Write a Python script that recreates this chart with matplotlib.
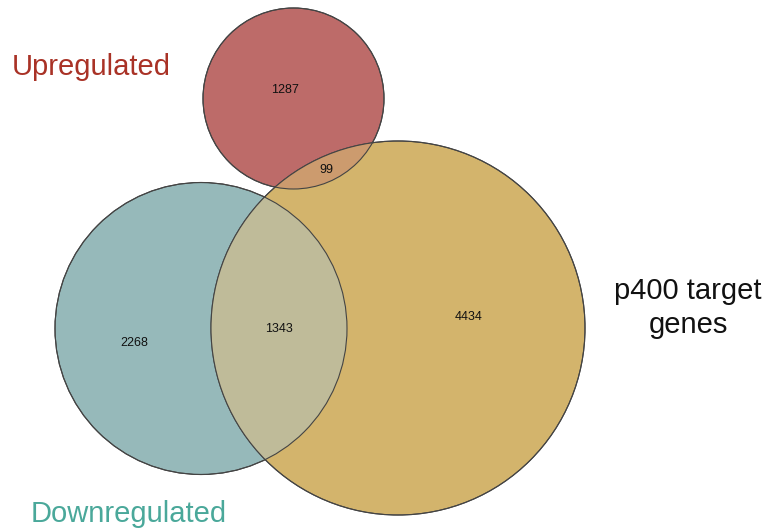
import matplotlib.pyplot as plt
from matplotlib.patches import Circle

set_names = ['Upregulated', 'Downregulated', 'p400 target\ngenes']
set_colors = ['#bd6b69', '#96b9ba', '#d3b46c']
label_colors = ['#a93226', '#4aa89a', '#111111']

region_labels = ['up_only', 'down_only', 'p400_only', 'up_p400', 'down_p400']
region_counts = [1287, 2268, 4434, 99, 1343]

# layout in pixel space (y downwards)
circ = {
    'up': ((293.5, 98.5), 90.5),
    'down': ((201, 328.5), 146),
    'p400': ((398, 328), 187),
}
count_pos = {
    'up_only': (285, 90),
    'down_only': (134, 343),
    'p400_only': (469, 317),
    'up_p400': (326, 170),
    'down_p400': (279, 329),
}

plt.rcParams['font.family'] = ['Liberation Sans', 'DejaVu Sans']
fig = plt.figure(figsize=(7.67, 5.31), dpi=100)
ax = fig.add_axes([0, 0, 1, 1])
ax.set_xlim(0, 767)
ax.set_ylim(531, 0)
ax.set_aspect('equal')
ax.axis('off')

edge = dict(edgecolor='#444444', linewidth=0.8)
c_down = Circle(*circ['down'], facecolor=set_colors[1], zorder=1, **edge)
c_p400 = Circle(*circ['p400'], facecolor=set_colors[2], zorder=2, **edge)
c_up = Circle(*circ['up'], facecolor=set_colors[0], zorder=1, **edge)
for c in (c_down, c_p400, c_up):
    ax.add_patch(c)

# overlap lenses
lens1 = Circle(*circ['down'], facecolor='#bfbb99', edgecolor='none', zorder=3)
ax.add_patch(lens1)
lens1.set_clip_path(c_p400)
lens2 = Circle(*circ['up'], facecolor='#cc9b6e', edgecolor='none', zorder=3)
ax.add_patch(lens2)
lens2.set_clip_path(c_p400)

# outlines on top
for name in ('down', 'up', 'p400'):
    ax.add_patch(Circle(*circ[name], facecolor='none', zorder=4, **edge))

for lab, n in zip(region_labels, region_counts):
    x, y = count_pos[lab]
    ax.text(x, y, str(n), ha='center', va='center', fontsize=9, color='#111111', zorder=5)

ax.text(91, 67, set_names[0], ha='center', va='center', fontsize=21, color=label_colors[0])
ax.text(129, 514, set_names[1], ha='center', va='center', fontsize=21, color=label_colors[1])
ax.text(688, 308, set_names[2], ha='center', va='center', fontsize=21, color=label_colors[2],
        linespacing=1.3)

fig.savefig('out.png', dpi=100)
